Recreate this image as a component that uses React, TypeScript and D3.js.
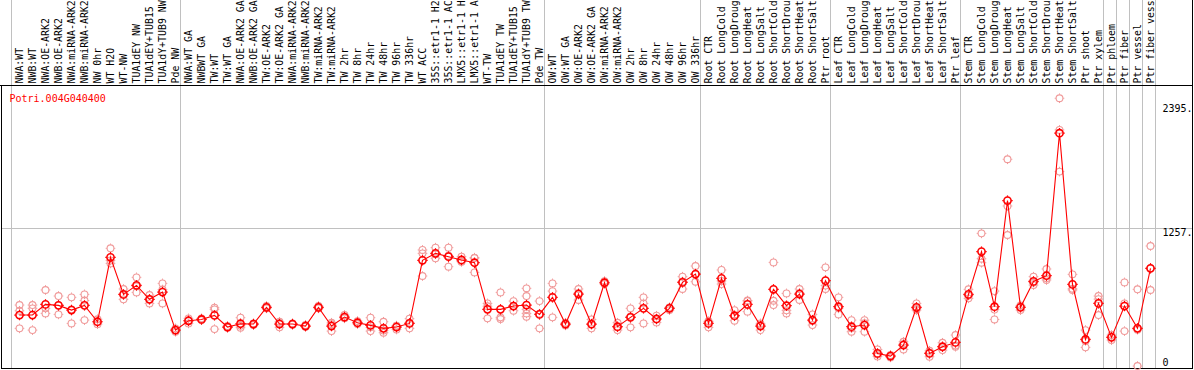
import React from "react";
import * as d3 from "d3";

const geneId = "Potri.004G040400";

const categories: string[] = [
  "NWA:WT", "NWB:WT", "NWA:OE-ARK2", "NWB:OE-ARK2", "NWA:miRNA-ARK2", "NWB:miRNA-ARK2",
  "NW 0hr", "WT H2O", "WT-NW", "TUA1dEY NW", "TUA1dEY+TUB15", "TUA1dY+TUB9 NW", "Pde NW",
  "NWA:WT GA", "NWBWT GA", "TW:WT", "TW:WT GA", "NWA:OE-ARK2 GA", "NWB:OE-ARK2 GA",
  "TW:OE-ARK2", "TW:OE-ARK2 GA", "NWA:miRNA-ARK2", "NWB:miRNA-ARK2", "TW:miRNA-ARK2",
  "TW:miRNA-ARK2", "TW 2hr", "TW 8hr", "TW 24hr", "TW 48hr", "TW 96hr", "TW 336hr", "WT ACC",
  "35S::etr1-1 H2", "35S::etr1-1 AC", "LMX5::etr1-1 H", "LMX5::etr1-1 A", "WT-TW",
  "TUA1dEY TW", "TUA1dEY+TUB15", "TUA1dY+TUB9 TW", "Pde TW",
  "OW:WT", "OW:WT GA", "OW:OE-ARK2", "OW:OE-ARK2 GA", "OW:miRNA-ARK2", "OW:miRNA-ARK2",
  "OW 2hr", "OW 8hr", "OW 24hr", "OW 48hr", "OW 96hr", "OW 336hr",
  "Root CTR", "Root LongCold", "Root LongDroug", "Root LongHeat", "Root LongSalt",
  "Root ShortCold", "Root ShortDrou", "Root ShortHeat", "Root ShortSalt", "Ptr root",
  "Leaf CTR", "Leaf LongCold", "Leaf LongDroug", "Leaf LongHeat", "Leaf LongSalt",
  "Leaf ShortCold", "Leaf ShortDrou", "Leaf ShortHeat", "Leaf ShortSalt", "Ptr leaf",
  "Stem CTR", "Stem LongCold", "Stem LongDroug", "Stem LongHeat", "Stem LongSalt",
  "Stem ShortCold", "Stem ShortDrou", "Stem ShortHeat", "Stem ShortSalt", "Ptr shoot",
  "Ptr xylem", "Ptr phloem", "Ptr fiber", "Ptr vessel", "Ptr fiber vess",
];

const means: number[] = [
  468, 468, 565, 556, 513, 556, 407, 993, 656, 738, 611, 677, 331,
  416, 428, 465, 359, 389, 386, 538, 386, 386, 368, 538, 368, 450, 398, 374, 347, 359, 392,
  966, 1029, 999, 969, 944, 520, 520, 550, 559, 474,
  629, 386, 659, 386, 762, 362, 447, 529, 432, 529, 765, 841,
  392, 802, 462, 565, 368, 702, 553, 659, 422, 781,
  544, 362, 377, 119, 95, 195, 538, 119, 180, 219,
  656, 1045, 544, 1509, 538, 774, 826, 2122, 747, 246, 574,
  265, 550, 347, 893,
];

const replicates: number[][] = [
  [559, 507, 347], [559, 529, 331], [696, 529, 483], [641, 556, 474], [629, 520, 392],
  [656, 600, 422], [430, 407, 385], [1075, 965, 938], [705, 652, 611], [811, 730, 674],
  [650, 609, 574], [756, 700, 574], [347, 331, 316],
  [438, 416, 392], [438, 425, 422], [535, 520, 340], [368, 356, 353], [444, 370, 353],
  [392, 386, 377], [550, 535, 529], [407, 395, 356], [392, 386, 380], [377, 365, 362],
  [550, 535, 529], [398, 384, 322], [468, 445, 438], [413, 395, 386], [444, 356, 322],
  [407, 327, 307], [372, 368, 337], [435, 395, 347],
  [1060, 1029, 823], [1081, 1022, 984], [1081, 1008, 908], [999, 953, 955], [990, 986, 856],
  [574, 548, 438], [674, 447, 432], [595, 548, 507], [711, 641, 520, 483, 453], [595, 480, 347],
  [756, 686, 447], [398, 386, 374], [705, 668, 605], [428, 383, 347], [777, 760, 750],
  [398, 357, 331], [529, 456, 356], [629, 574, 392], [462, 432, 401], [538, 535, 513],
  [817, 773, 705], [914, 838, 771],
  [407, 412, 356], [878, 778, 750], [513, 457, 416], [595, 600, 499], [392, 381, 331],
  [947, 598, 559], [665, 511, 483], [705, 668, 605], [474, 415, 377], [902, 736, 705],
  [629, 529, 474], [422, 348, 316], [422, 393, 316], [155, 110, 92], [104, 98, 83],
  [225, 205, 155], [574, 527, 513], [143, 125, 89], [216, 175, 149], [286, 191, 180],
  [702, 646, 620], [1211, 980, 944], [686, 518, 428], [1885, 1460, 1196], [556, 545, 513],
  [817, 764, 741], [887, 803, 787], [2440, 2152, 1773], [838, 707, 696], [331, 233, 174],
  [641, 613, 468],
  [286, 270, 240], [765, 574, 322], [702, 335, 4], [1096, 893, 696],
];

// indices where a new group begins (vertical separators)
const groupStarts: number[] = [0, 13, 41, 53, 63, 73, 84, 85, 86, 87, 88];

const yTicks: number[] = [2395, 1257, 0];
const yTickLabels: string[] = ["2395.", "1257.", "0"];
const gridValues: number[] = [1257];

const W = 1194;
const H = 370;
const FONT = "'DejaVu Sans Mono', 'Liberation Mono', monospace";

export default function App() {
  const idx = d3.range(categories.length);
  const x = d3
    .scaleBand<number>()
    .domain(idx)
    .range([11, 11 + 13 * categories.length])
    .padding(0);
  const bw = x.bandwidth();
  const cx = (i: number) => (x(i) as number) + 8.5;
  const y = d3.scaleLinear().domain([0, 2395]).range([366.5, 103.2]);

  const edgeX = (k: number) =>
    k < categories.length ? (x(k) as number) : (x(categories.length - 1) as number) + bw;

  const line = d3
    .line<number>()
    .x((_, i) => cx(i))
    .y((d) => y(d));

  const tickLabelY = (v: number, k: number) => {
    if (k === 0) return y(v) + 9;
    if (v === 0) return 366;
    return y(v) + 8;
  };

  return (
    <svg
      width={W}
      height={H}
      style={{ position: "absolute", left: 0, top: 0, background: "#fff" }}
      fontFamily={FONT}
    >
      <rect x={0} y={0} width={W} height={H} fill="#fff" />
      {groupStarts.map((k) => (
        <line
          key={"sep" + k}
          x1={edgeX(k) + 0.5}
          x2={edgeX(k) + 0.5}
          y1={0}
          y2={369}
          stroke="#c0c0c0"
          strokeWidth={1}
        />
      ))}
      {gridValues.map((v) => (
        <line
          key={"g" + v}
          x1={2}
          x2={1192}
          y1={Math.round(y(v)) + 0.5}
          y2={Math.round(y(v)) + 0.5}
          stroke="#c0c0c0"
          strokeWidth={1}
        />
      ))}
      <line x1={0} x2={1193} y1={85.5} y2={85.5} stroke="#000" strokeWidth={1} />
      <line x1={1.5} x2={1.5} y1={85} y2={369} stroke="#000" strokeWidth={1} />
      <line x1={1192.5} x2={1192.5} y1={0} y2={369} stroke="#000" strokeWidth={1} />
      <line x1={1} x2={1193} y1={368.5} y2={368.5} stroke="#000" strokeWidth={1} />

      {categories.map((c, i) => (
        <text
          key={"lab" + i}
          transform={`translate(${cx(i) + 3.8},83.5) rotate(-90)`}
          fontSize={9.9}
          fill="#000"
        >
          {c}
        </text>
      ))}

      <text x={9.5} y={101.5} fontSize={10} fill="#ff0000">
        {geneId}
      </text>

      {yTicks.map((v, k) => (
        <text key={"yt" + k} x={1162.5} y={tickLabelY(v, k)} fontSize={10} fill="#000">
          {yTickLabels[k]}
        </text>
      ))}

      {replicates.map((reps, i) =>
        reps.map((v, j) => (
          <g key={`r${i}_${j}`} stroke="#f09a9a" fill="none">
            <circle cx={cx(i)} cy={y(v)} r={3.4} strokeWidth={1.1} />
            <line x1={cx(i)} x2={cx(i)} y1={y(v) - 4.8} y2={y(v) - 3.6} strokeWidth={1} />
            <line x1={cx(i)} x2={cx(i)} y1={y(v) + 3.6} y2={y(v) + 4.8} strokeWidth={1} />
            <line x1={cx(i) - 4.8} x2={cx(i) - 3.6} y1={y(v)} y2={y(v)} strokeWidth={1} />
            <line x1={cx(i) + 3.6} x2={cx(i) + 4.8} y1={y(v)} y2={y(v)} strokeWidth={1} />
          </g>
        ))
      )}

      <path d={line(means) || ""} fill="none" stroke="#ff0000" strokeWidth={1.1} />

      {means.map((v, i) => (
        <g key={"m" + i} stroke="#ff0000" fill="none">
          <circle cx={cx(i)} cy={y(v)} r={3.6} strokeWidth={1.6} />
          <line x1={cx(i)} x2={cx(i)} y1={y(v) - 5.2} y2={y(v) - 3.8} strokeWidth={1.2} />
          <line x1={cx(i)} x2={cx(i)} y1={y(v) + 3.8} y2={y(v) + 5.2} strokeWidth={1.2} />
          <line x1={cx(i) - 5.2} x2={cx(i) - 3.8} y1={y(v)} y2={y(v)} strokeWidth={1.2} />
          <line x1={cx(i) + 3.8} x2={cx(i) + 5.2} y1={y(v)} y2={y(v)} strokeWidth={1.2} />
        </g>
      ))}
    </svg>
  );
}
